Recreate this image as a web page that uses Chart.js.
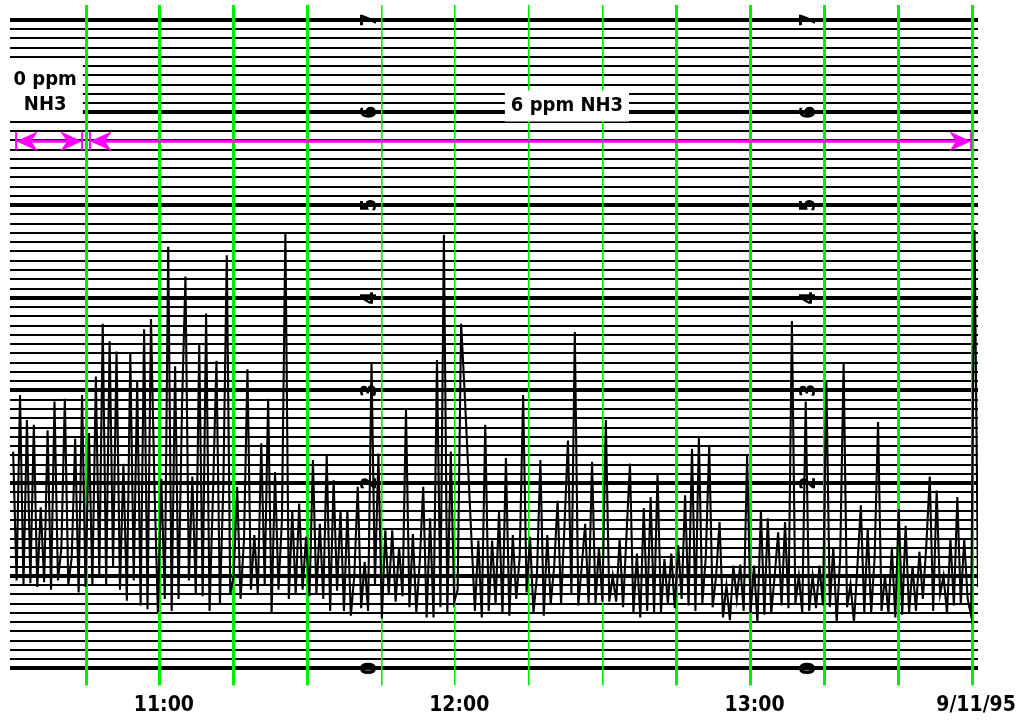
<!DOCTYPE html>
<html>
<head>
<meta charset="utf-8">
<title>NH3 strip chart 9/11/95</title>
<script src="https://cdn.jsdelivr.net/npm/chart.js@4.4.1/dist/chart.umd.min.js"></script>
<style>
  html, body { margin: 0; padding: 0; background: #fff; }
  #wrap { width: 1031px; height: 725px; }
</style>
</head>
<body>
<div id="wrap"><canvas id="chart" width="1031" height="725"></canvas></div>
<script>
// time axis in minutes after 10:00
const startTime = 30.2;     // first sample, 10:30.2
const sampleStep = 0.7;     // minutes between samples

// sensor signal
const signal = [
  2.34, 0.95, 2.95, 0.90, 2.68, 0.92, 2.63, 0.88, 1.74, 0.93,
  2.57, 0.85, 2.88, 0.95, 1.30, 2.91, 0.90, 1.20, 2.48, 0.82,
  2.95, 0.88, 2.54, 0.90, 3.15, 1.00, 3.72, 0.90, 3.53, 1.10,
  3.42, 0.85, 2.21, 0.73, 3.40, 0.95, 3.09, 0.68, 3.66, 0.64,
  3.77, 1.98, 0.61, 2.05, 0.75, 4.55, 0.62, 3.26, 0.75, 2.82,
  4.23, 0.95, 2.07, 0.80, 3.49, 0.78, 3.83, 0.62, 1.90, 3.32,
  0.70, 1.98, 4.46, 0.80, 1.00, 1.96, 0.75, 1.40, 3.23, 0.85,
  1.44, 0.80, 2.43, 0.90, 2.91, 0.60, 2.12, 0.85, 1.60, 4.70,
  0.75, 1.69, 0.80, 1.78, 0.85, 1.42, 0.78, 2.25, 0.80, 1.56,
  0.75, 2.30, 0.62, 2.03, 0.84, 1.71, 0.62, 1.71, 0.57, 1.00,
  1.96, 0.65, 1.15, 0.62, 3.29, 0.90, 2.32, 0.54, 1.49, 0.80,
  1.49, 0.72, 1.31, 0.78, 2.80, 0.66, 1.45, 0.60, 1.15, 1.96,
  0.55, 1.62, 0.55, 3.33, 0.66, 4.68, 0.60, 2.34, 0.72, 0.85,
  3.72, 3.00, 2.20, 1.40, 0.62, 1.38, 0.55, 2.63, 0.62, 1.38,
  0.70, 1.69, 0.59, 2.27, 0.57, 1.44, 0.75, 1.20, 2.95, 0.82,
  1.42, 0.60, 1.00, 2.25, 0.57, 1.44, 0.70, 1.10, 1.81, 0.70,
  1.54, 2.46, 0.80, 3.63, 0.68, 1.10, 1.56, 0.70, 2.23, 0.70,
  1.31, 0.72, 2.68, 0.72, 1.00, 0.72, 1.40, 0.66, 1.45, 2.21,
  0.60, 1.24, 0.55, 1.73, 0.62, 1.85, 0.60, 2.10, 0.61, 1.18,
  0.70, 1.24, 0.65, 1.33, 0.75, 1.87, 0.68, 2.37, 0.62, 2.49,
  0.70, 1.20, 2.41, 0.66, 1.00, 1.58, 0.55, 0.90, 0.52, 1.11,
  0.75, 1.12, 0.62, 2.30, 0.60, 1.11, 0.50, 1.71, 0.58, 1.62,
  0.60, 1.00, 1.47, 0.68, 1.58, 0.65, 3.75, 0.70, 1.00, 0.60,
  2.88, 0.62, 1.00, 0.65, 1.11, 0.68, 3.09, 0.66, 1.31, 0.50,
  1.20, 3.29, 0.66, 0.91, 0.50, 1.10, 1.76, 0.60, 1.50, 0.60,
  1.20, 2.66, 0.62, 1.00, 0.60, 1.30, 0.55, 1.72, 0.58, 1.54,
  0.60, 1.10, 0.62, 1.26, 0.75, 1.33, 2.07, 0.62, 1.92, 0.80,
  1.00, 0.60, 1.40, 0.68, 1.85, 0.70, 1.40, 0.75, 0.57, 4.73,
  0.88
];

// vertical grid every 15 minutes, 10:45 .. 13:45
const gridTimes = [45, 60, 75, 90, 105, 120, 135, 150, 165, 180, 195, 210, 225];
const labelTimes = [60, 120, 180, 225];
const labelTexts = ['11:00', '12:00', '13:00', '9/11/95'];

// value labels printed sideways on the paper
const valueLabels = [0, 2, 3, 4, 5, 6, 7];
const valueLabelTimes = [102.7, 191.7];

// exposure notes
const notes = [
  { lines: ['0 ppm', 'NH3'], t: 36.7, v: 6.22 },
  { lines: ['6 ppm NH3'], t: 142.7, v: 6.07 }
];
const exposureSpans = [[30.8, 44.2], [45.8, 224.8]];
const spanLevel = 5.69;

const GREEN = '#00ee00';
const MAGENTA = '#ff00ff';
const FONT = "'DejaVu Sans Condensed', 'Liberation Sans', Arial, sans-serif";

Chart.defaults.font.family = FONT;
Chart.defaults.color = '#000';

const points = signal.map((v, i) => ({ x: startTime + i * sampleStep, y: v }));

// draws the sideways numbers, the white notes and the magenta arrows
const paperMarks = {
  id: 'paperMarks',
  afterDatasetsDraw(chart) {
    const ctx = chart.ctx;
    const xs = chart.scales.x;
    const ys = chart.scales.y;
    ctx.save();

    // sideways value labels
    ctx.fillStyle = '#000';
    ctx.font = 'bold 21px ' + FONT;
    ctx.textAlign = 'center';
    ctx.textBaseline = 'middle';
    valueLabelTimes.forEach(t => {
      const px = xs.getPixelForValue(t);
      valueLabels.forEach(v => {
        const py = ys.getPixelForValue(v);
        ctx.save();
        ctx.translate(px, py);
        ctx.rotate(-Math.PI / 2);
        ctx.fillText(String(v), 0, 1);
        ctx.restore();
      });
    });

    // notes in white boxes
    ctx.font = 'bold 20px ' + FONT;
    notes.forEach(n => {
      const cx = xs.getPixelForValue(n.t);
      const cy = ys.getPixelForValue(n.v);
      const lh = 25;
      const w = Math.max(...n.lines.map(s => ctx.measureText(s).width)) + 12;
      const h = n.lines.length * lh + 6;
      ctx.fillStyle = '#fff';
      ctx.fillRect(cx - w / 2, cy - h / 2, w, h);
      ctx.fillStyle = '#000';
      n.lines.forEach((s, k) => {
        ctx.fillText(s, cx, cy - h / 2 + 3 + lh / 2 + k * lh);
      });
    });

    // exposure arrows
    const py = ys.getPixelForValue(spanLevel);
    ctx.strokeStyle = MAGENTA;
    ctx.fillStyle = MAGENTA;
    exposureSpans.forEach(([a, b]) => {
      const x1 = xs.getPixelForValue(a);
      const x2 = xs.getPixelForValue(b);
      ctx.lineWidth = 3;
      ctx.beginPath();
      ctx.moveTo(x1 + 10, py);
      ctx.lineTo(x2 - 10, py);
      ctx.stroke();
      [[x1, 1], [x2, -1]].forEach(([x, d]) => {
        ctx.beginPath();
        ctx.moveTo(x, py);
        ctx.lineTo(x + d * 22, py - 10);
        ctx.lineTo(x + d * 15, py);
        ctx.lineTo(x + d * 22, py + 10);
        ctx.closePath();
        ctx.fill();
        ctx.lineWidth = 2;
        ctx.beginPath();
        ctx.moveTo(x, py - 9);
        ctx.lineTo(x, py + 9);
        ctx.stroke();
      });
    });
    ctx.restore();
  }
};

new Chart(document.getElementById('chart'), {
  type: 'line',
  data: {
    datasets: [{
      data: points,
      borderColor: '#000',
      borderWidth: 2.1,
      pointRadius: 0,
      tension: 0,
      fill: false
    }]
  },
  options: {
    responsive: false,
    animation: false,
    devicePixelRatio: 1,
    layout: { padding: { left: 10, right: 53, top: 5, bottom: 0 } },
    plugins: {
      legend: { display: false },
      tooltip: { enabled: false }
    },
    scales: {
      x: {
        type: 'linear',
        min: 29.56,
        max: 226.2,
        afterBuildTicks: scale => {
          scale.ticks = gridTimes.map(v => ({ value: v }));
        },
        grid: {
          z: -1,
          color: GREEN,
          lineWidth: ctx => (ctx.index >= 4 && ctx.index <= 7) ? 1.6 : 3,
          tickLength: 17
        },
        border: { display: false },
        ticks: {
          autoSkip: false,
          maxRotation: 0,
          padding: 14,
          labelOffset: 4,
          font: { size: 21, weight: 'bold', lineHeight: 0.55 },
          callback: v => {
            const k = labelTimes.indexOf(v);
            return k >= 0 ? labelTexts[k] : '';
          }
        }
      },
      y: {
        min: 0,
        max: 7.16,
        afterBuildTicks: scale => {
          const t = [];
          for (let k = 0; k <= 70; k++) t.push({ value: k / 10 });
          scale.ticks = t;
        },
        grid: {
          z: -2,
          color: '#000',
          drawTicks: false,
          lineWidth: ctx => (Math.abs(ctx.tick.value - Math.round(ctx.tick.value)) < 1e-6) ? 4 : 2
        },
        border: { display: false },
        ticks: { display: false }
      }
    }
  },
  plugins: [paperMarks]
});
</script>
</body>
</html>
